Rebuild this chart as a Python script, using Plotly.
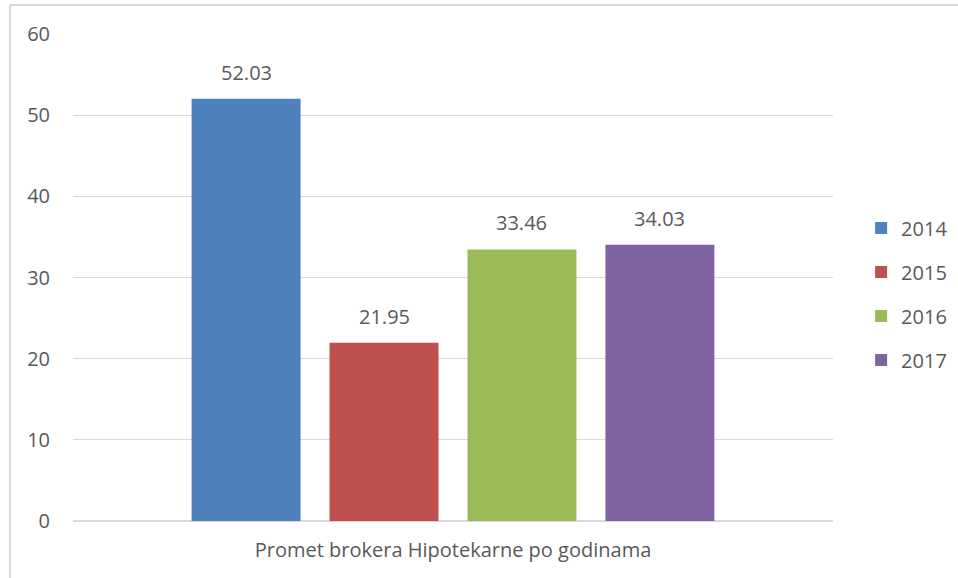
import plotly.graph_objects as go

category = ["Promet brokera Hipotekarne po godinama"]
years = ["2014", "2015", "2016", "2017"]
values = [52.03, 21.95, 33.46, 34.03]
colors = ["#4F81BD", "#C0504D", "#9BBB59", "#8064A2"]
y_ticks = [0, 10, 20, 30, 40, 50, 60]

FONT = "'Open Sans', sans-serif"
FS = 20
TXT = "#595959"
bargap = 0.274
bargroupgap = 0.21

fig = go.Figure()
n = len(years)
slot = (1 - bargap) / n
annotations = []
for i, (yr, v, c) in enumerate(zip(years, values, colors)):
    fig.add_trace(go.Bar(
        x=category, y=[v], name=yr, marker=dict(color=c, line=dict(width=0)),
        legendgroup=yr,
    ))
    xc = -(1 - bargap) / 2 + (i + 0.5) * slot
    annotations.append(dict(
        x=xc, y=v, xref="x", yref="y", text=f"{v:.2f}", showarrow=False,
        yanchor="bottom", yshift=11, font=dict(family=FONT, size=FS, color=TXT),
    ))

fig.update_layout(
    width=958, height=578,
    margin=dict(l=73, r=125, t=34, b=57, autoexpand=False),
    paper_bgcolor="white", plot_bgcolor="white",
    barmode="group", bargap=bargap, bargroupgap=bargroupgap,
    font=dict(family=FONT, size=FS, color=TXT),
    annotations=annotations,
    legend=dict(
        x=1.037, xanchor="left", y=0.466, yanchor="middle",
        traceorder="grouped", tracegroupgap=15, itemwidth=30,
        font=dict(family=FONT, size=FS, color=TXT),
        bgcolor="rgba(0,0,0,0)",
    ),
    xaxis=dict(
        range=[-0.5, 0.5], showgrid=False, showline=False, zeroline=False,
        ticks="", ticklabelstandoff=15, tickfont=dict(family=FONT, size=FS, color=TXT),
    ),
    yaxis=dict(
        range=[0, 60], tickvals=y_ticks, showgrid=True, gridcolor="#D9D9D9",
        gridwidth=1, zeroline=True, zerolinecolor="#D9D9D9", zerolinewidth=2,
        showline=False, ticks="", ticklabelstandoff=22,
        tickfont=dict(family=FONT, size=FS, color=TXT),
    ),
    shapes=[
        dict(type="line", xref="paper", yref="paper", x0=(10 - 73) / 760, x1=(10 - 73) / 760,
             y0=1 + 29 / 487, y1=-0.2, line=dict(color="#D9D9D9", width=2)),
        dict(type="line", xref="paper", yref="paper", x0=(10 - 73) / 760, x1=1.2,
             y0=1 + 29 / 487, y1=1 + 29 / 487, line=dict(color="#D9D9D9", width=2)),
    ],
)

fig.write_html("out.html", config={"displayModeBar": False},
               post_script="document.body.style.margin='0';")
